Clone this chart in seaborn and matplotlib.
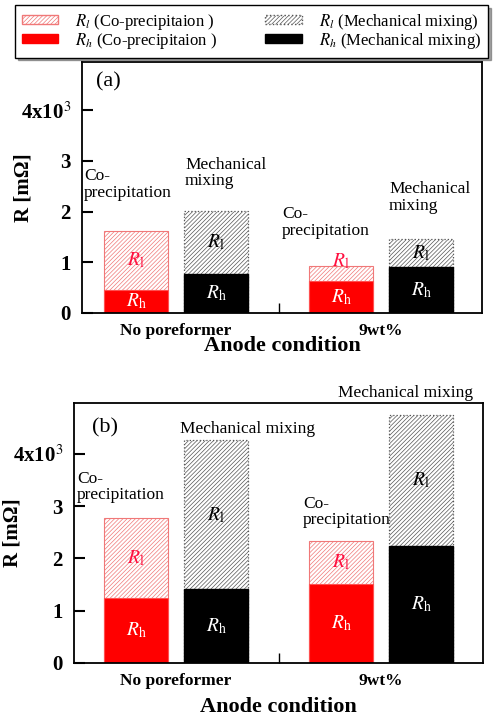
import numpy as np
import pandas as pd
import matplotlib
matplotlib.use('Agg')
import matplotlib.pyplot as plt
from matplotlib.patches import Patch
import seaborn as sns

conditions = ['No poreformer', '9wt%']
methods = ['Co-precipitation', 'Mechanical mixing']

# panel (a), R in 10^3 mOhm
a_rh_co = [0.45, 0.63]
a_rl_co = [1.17, 0.30]
a_rh_mm = [0.77, 0.90]
a_rl_mm = [1.24, 0.55]

# panel (b)
b_rh_co = [1.25, 1.51]
b_rl_co = [1.53, 0.82]
b_rh_mm = [1.41, 2.24]
b_rl_mm = [2.85, 2.50]

ytick_vals = [0, 1, 2, 3, 4]
ytick_labels = ['0', '1', '2', '3', r'4x10$^{3}$']

plt.rcParams['font.family'] = ['Liberation Serif', 'DejaVu Serif']
plt.rcParams['mathtext.fontset'] = 'stix'
plt.rcParams['hatch.linewidth'] = 0.5

co_edge = '#f07878'
mm_edge = '#555555'
co_text = '#ff1040'
hatch = '////////'


def make_df(rh_co, rl_co, rh_mm, rl_mm):
    rows = []
    for i, c in enumerate(conditions):
        rows.append([c, methods[0], rh_co[i], rl_co[i]])
        rows.append([c, methods[1], rh_mm[i], rl_mm[i]])
    df = pd.DataFrame(rows, columns=['condition', 'method', 'Rh', 'Rl'])
    df['total'] = df['Rh'] + df['Rl']
    return df


def draw_panel(ax, df, xlim, ylim, notes, tag, tagpos, ylab_x, xlab_y):
    kw = dict(data=df, x='condition', hue='method', order=conditions,
              hue_order=methods, width=0.78, gap=0.2, saturation=1,
              errorbar=None, legend=False, ax=ax)
    sns.barplot(y='total', palette=['white', 'white'], **kw)
    sns.barplot(y='Rh', palette=['red', 'black'], **kw)
    top_co, top_mm, low_co, low_mm = ax.containers

    for p in top_co:
        p.set_edgecolor(co_edge); p.set_hatch(hatch); p.set_linewidth(0.8)
    for p in top_mm:
        p.set_edgecolor(mm_edge); p.set_hatch(hatch); p.set_linewidth(0.9)
        p.set_linestyle(':')
    for p in low_co:
        p.set_edgecolor('#ff5050'); p.set_linewidth(0.8)
    for p in low_mm:
        p.set_edgecolor('black')

    # R_h / R_l labels inside the stacked bars
    for tops, lows, col in [(top_co, low_co, co_text), (top_mm, low_mm, 'black')]:
        for pt, pl in zip(tops, lows):
            xc = pl.get_x() + pl.get_width() / 2
            rh = pl.get_height()
            tot = pt.get_height()
            ax.text(xc, rh / 2, r'$R_\mathrm{h}$', color='white', ha='center',
                    va='center', fontsize=14)
            yl = (rh + tot) / 2 if tot - rh > 0.4 else tot + 0.1
            ax.text(xc, yl, r'$R_\mathrm{l}$', color=col, ha='center',
                    va='center', fontsize=14)

    for x, y, s in notes:
        ax.text(x, y, s, ha='left', va='center', fontsize=12.5,
                linespacing=1.05, clip_on=False)

    ax.text(tagpos[0], tagpos[1], tag, transform=ax.transAxes, fontsize=16,
            ha='left', va='center')

    ax.set_xlim(*xlim)
    ax.set_ylim(*ylim)
    ax.set_yticks(ytick_vals)
    ax.set_yticklabels(ytick_labels, fontweight='bold', fontsize=15)
    ax.set_xticks([0, 1])
    ax.set_xticklabels(conditions, fontweight='bold', fontsize=12.5)
    ax.set_xticks([0.5], minor=True)
    ax.tick_params(axis='x', which='major', length=0, pad=7)
    ax.tick_params(axis='x', which='minor', direction='in', length=7, width=1)
    ax.tick_params(axis='y', direction='in', length=8, width=1.5, pad=8)
    for s in ax.spines.values():
        s.set_linewidth(1.3)
    ax.set_xlabel('Anode condition', fontsize=16, fontweight='bold')
    ax.set_ylabel('R [mΩ]', fontsize=15, fontweight='bold')
    ax.yaxis.set_label_coords(ylab_x, 0.5)
    ax.xaxis.set_label_coords(0.5, xlab_y)


fig = plt.figure(figsize=(5, 7.24), dpi=100)
ax_a = fig.add_axes([0.164, 0.5677, 0.800, 0.3467])
ax_b = fig.add_axes([0.148, 0.0843, 0.8174, 0.3595])

notes_a = [(-0.45, 2.53, 'Co-\nprecipitation'),
           (0.044, 2.76, 'Mechanical\nmixing'),
           (0.517, 1.78, 'Co-\nprecipitation'),
           (1.039, 2.28, 'Mechanical\nmixing')]
notes_b = [(-0.483, 3.37, 'Co-\nprecipitation'),
           (0.02, 4.47, 'Mechanical mixing'),
           (0.62, 2.89, 'Co-\nprecipitation'),
           (0.79, 5.16, 'Mechanical mixing')]

draw_panel(ax_a, make_df(a_rh_co, a_rl_co, a_rh_mm, a_rl_mm),
           (-0.459, 1.493), (0, 4.95), notes_a, '(a)', (0.035, 0.92),
           -0.12, -0.09)
draw_panel(ax_b, make_df(b_rh_co, b_rl_co, b_rh_mm, b_rl_mm),
           (-0.4976, 1.496), (0, 4.98), notes_b, '(b)', (0.044, 0.903),
           -0.125, -0.13)

handles = [
    Patch(facecolor='white', edgecolor=co_edge, hatch=hatch,
          label=r'$R_l$ (Co-precipitaion )'),
    Patch(facecolor='red', edgecolor='red', label=r'$R_h$ (Co-precipitaion )'),
    Patch(facecolor='white', edgecolor=mm_edge, hatch=hatch, linestyle=':',
          label=r'$R_l$ (Mechanical mixing)'),
    Patch(facecolor='black', edgecolor='black', label=r'$R_h$ (Mechanical mixing)'),
]
leg = fig.legend(handles=handles, loc='upper left', bbox_to_anchor=(0.03, 0.993),
                 ncol=2, fontsize=12, frameon=True, fancybox=False, shadow=True,
                 edgecolor='black', handlelength=2.2, handleheight=0.45,
                 handletextpad=1.0, columnspacing=2.9, borderpad=0.4,
                 labelspacing=-0.05, borderaxespad=0)
leg.get_frame().set_linewidth(1.0)

fig.savefig('out.png', dpi=100)
